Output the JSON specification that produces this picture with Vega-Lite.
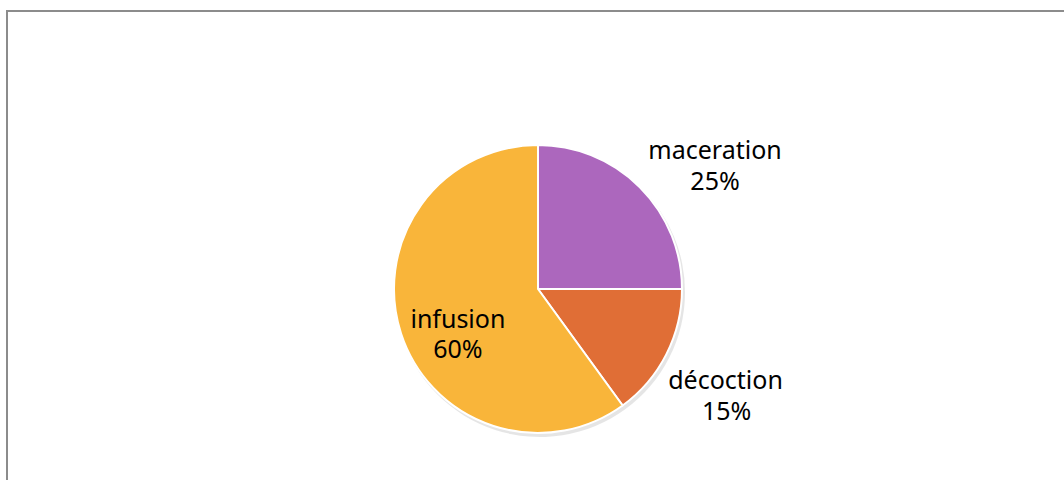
{
  "$schema": "https://vega.github.io/schema/vega-lite/v6.json",
  "autosize": {"type": "none"},
  "width": 1062,
  "height": 556,
  "padding": {"left": 7, "top": 11, "right": -5, "bottom": -87},
  "background": "#ffffff",
  "view": {"stroke": "#8c8c8c", "strokeWidth": 2},
  "config": {
    "text": {"font": "Noto Sans", "fontSize": 25, "color": "#000000"}
  },
  "data": {
    "values": [
      {"method": "maceration", "share": 0.25, "idx": 1},
      {"method": "décoction", "share": 0.15, "idx": 2},
      {"method": "infusion", "share": 0.60, "idx": 3}
    ]
  },
  "encoding": {
    "theta": {"field": "share", "type": "quantitative", "stack": true},
    "order": {"field": "idx", "type": "quantitative"}
  },
  "layer": [
    {
      "mark": {"type": "arc", "radius": 145, "xOffset": 2, "yOffset": 3, "color": "#000000", "opacity": 0.1}
    },
    {
      "mark": {"type": "arc", "radius": 144, "stroke": "#ffffff", "strokeWidth": 2},
      "encoding": {
        "color": {
          "field": "method",
          "type": "nominal",
          "scale": {"domain": ["maceration", "décoction", "infusion"], "range": ["#ac67bd", "#e06e36", "#f9b53a"]},
          "legend": null
        }
      }
    },
    {
      "mark": {"type": "text", "radius": 215, "dx": 25, "dy": 14},
      "encoding": {"text": {"condition": {"test": "datum.method === 'maceration'", "field": "method", "type": "nominal"}, "value": ""}}
    },
    {
      "mark": {"type": "text", "radius": 215, "dx": 25, "dy": 45},
      "encoding": {"text": {"condition": {"test": "datum.method === 'maceration'", "field": "share", "type": "quantitative", "format": ".0%"}, "value": ""}}
    },
    {
      "mark": {"type": "text", "radius": 215, "dx": -4, "dy": -6},
      "encoding": {"text": {"condition": {"test": "datum.method === 'décoction'", "field": "method", "type": "nominal"}, "value": ""}}
    },
    {
      "mark": {"type": "text", "radius": 215, "dx": -3, "dy": 25},
      "encoding": {"text": {"condition": {"test": "datum.method === 'décoction'", "field": "share", "type": "quantitative", "format": ".0%"}, "value": ""}}
    },
    {
      "mark": {"type": "text", "radius": 100, "dx": 15, "dy": 0},
      "encoding": {"text": {"condition": {"test": "datum.method === 'infusion'", "field": "method", "type": "nominal"}, "value": ""}}
    },
    {
      "mark": {"type": "text", "radius": 100, "dx": 15, "dy": 30},
      "encoding": {"text": {"condition": {"test": "datum.method === 'infusion'", "field": "share", "type": "quantitative", "format": ".0%"}, "value": ""}}
    }
  ]
}
